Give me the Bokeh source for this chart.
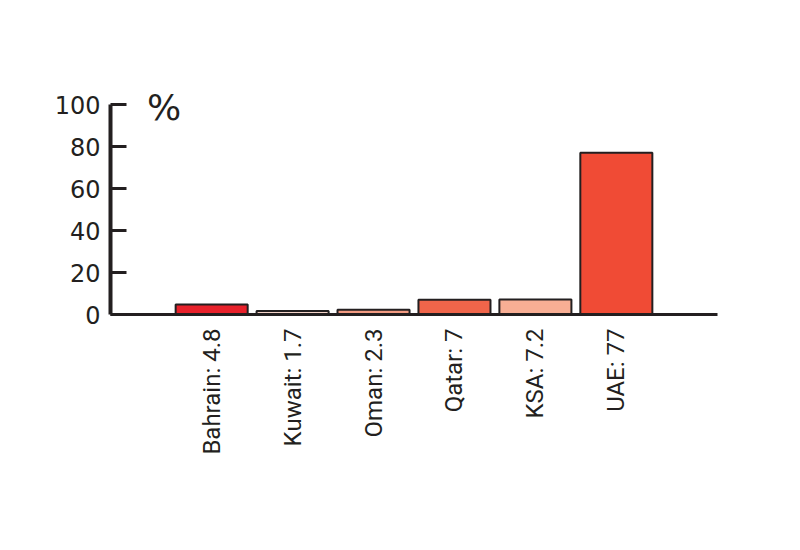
import math

from bokeh.plotting import figure
from bokeh.models import FactorRange, Label, ColumnDataSource
from bokeh.embed import file_html
from bokeh.resources import INLINE

# data
countries = ["Bahrain", "Kuwait", "Oman", "Qatar", "KSA", "UAE"]
shares = [4.8, 1.7, 2.3, 7, 7.2, 77]
colors = ["#e8212b", "#f3d3c8", "#f29b82", "#f0654a", "#f8ae94", "#f04b35"]
y_ticks = [0, 20, 40, 60, 80, 100]

labels = [f"{c}: {v:g}" for c, v in zip(countries, shares)]
src = ColumnDataSource(data=dict(label=labels, share=shares, color=colors))

ink = "#231f20"

# a little headroom above 100 so the "%" sign is not clipped
p = figure(x_range=FactorRange(factors=labels, range_padding=0.75, range_padding_units="absolute"),
           y_range=(0, 105.75), width=784, height=530,
           min_border_left=110, min_border_right=67, min_border_top=92, min_border_bottom=216,
           output_backend="svg", toolbar_location=None)

p.vbar(x="label", top="share", width=0.89, source=src,
       fill_color="color", line_color=ink, line_width=2)

# y axis
p.yaxis.bounds = (0, 100)
p.yaxis.ticker = y_ticks
p.yaxis.axis_line_width = 4
p.yaxis.axis_line_color = ink
p.yaxis.major_tick_in = 16
p.yaxis.major_tick_out = 0
p.yaxis.major_tick_line_width = 3
p.yaxis.major_tick_line_color = ink
p.yaxis.minor_tick_line_color = None
p.yaxis.major_label_standoff = 10
p.yaxis.major_label_text_font = "DejaVu Sans"
p.yaxis.major_label_text_font_size = "24px"
p.yaxis.major_label_text_color = ink

# x axis
p.xaxis.axis_line_width = 3
p.xaxis.axis_line_color = ink
p.xaxis.major_tick_line_color = None
p.xaxis.major_tick_in = 0
p.xaxis.major_tick_out = 0
p.xaxis.major_label_orientation = math.pi / 2
p.xaxis.major_label_standoff = 14
p.xaxis.major_label_text_font = "Roboto"
p.xaxis.major_label_text_font_size = "24px"
p.xaxis.major_label_text_color = ink

p.xgrid.grid_line_color = None
p.ygrid.grid_line_color = None
p.outline_line_color = None

# unit label
p.add_layout(Label(x=-0.3, y=98.8, text="%", text_baseline="middle",
                   text_font="DejaVu Sans", text_font_size="36px", text_color=ink))

open("out.html", "w").write(file_html(p, INLINE))
